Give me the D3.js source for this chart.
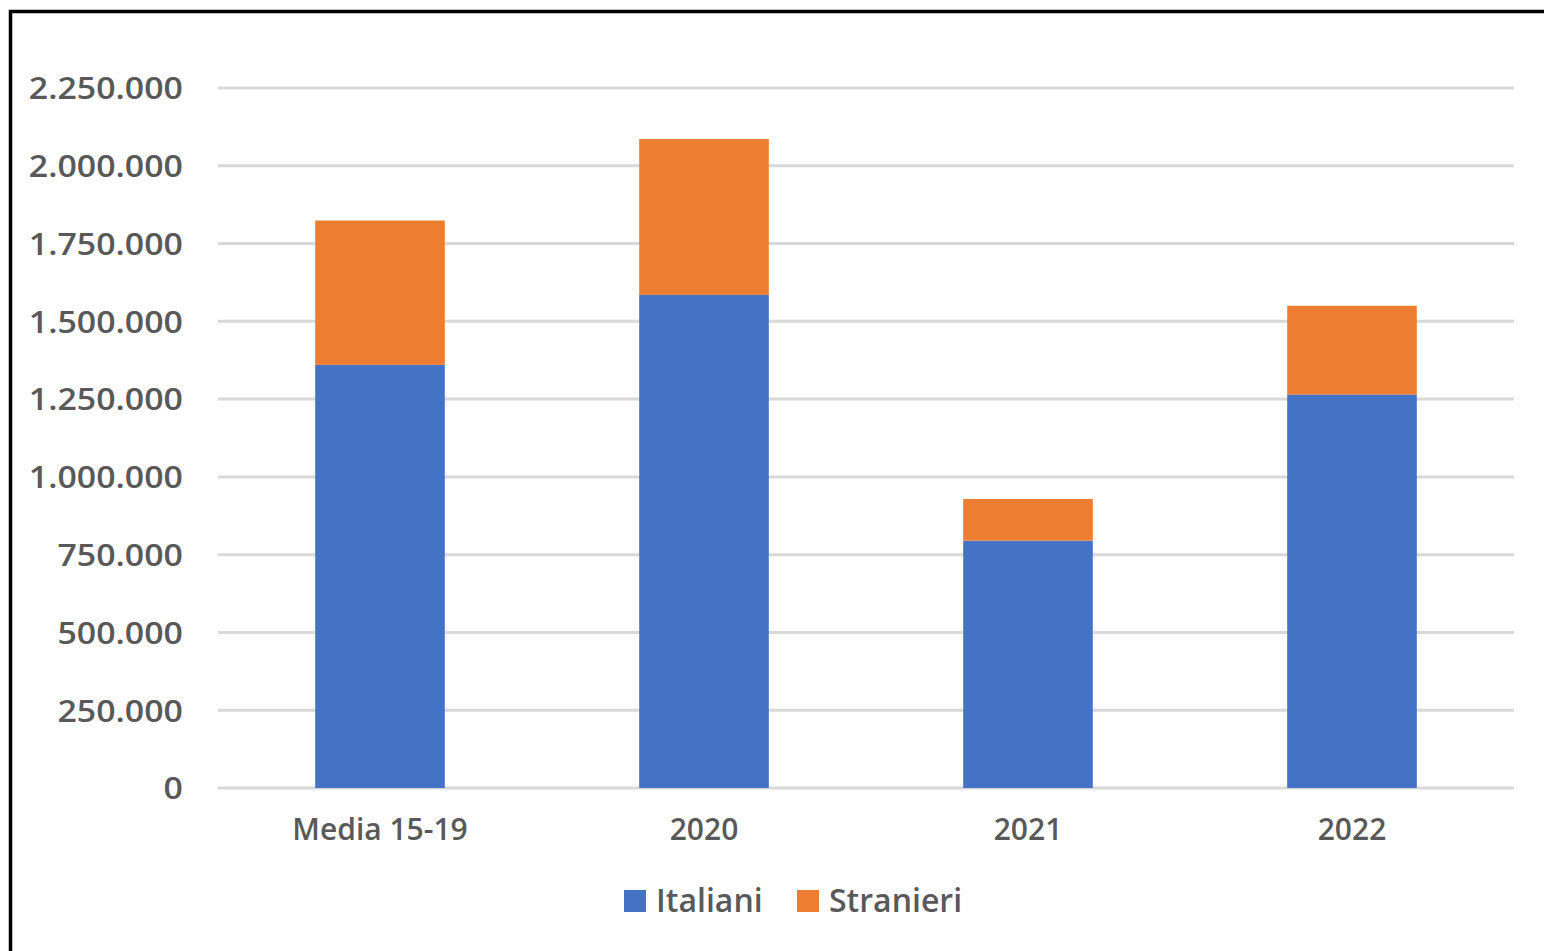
<!DOCTYPE html>
<html>
<head>
<meta charset="utf-8">
<script src="https://cdn.jsdelivr.net/npm/d3@7"></script>
<style>
  html, body { margin: 0; padding: 0; background: #fff; }
  #chart text { font-family: "Open Sans", "DejaVu Sans", sans-serif; font-weight: 600; fill: #595959; }
</style>
</head>
<body>
<div id="chart"></div>
<script>
var categories = ["Media 15-19", "2020", "2021", "2022"];
var italiani = [1360000, 1585000, 795000, 1265000];
var stranieri = [464000, 501000, 134000, 285000];
var seriesNames = ["Italiani", "Stranieri"];
var seriesColors = ["#4472C4", "#ED7D31"];
var yTicks = [0, 250000, 500000, 750000, 1000000, 1250000, 1500000, 1750000, 2000000, 2250000];

var W = 1544, H = 951,
    margin = {top: 88, right: 30, bottom: 163, left: 218},
    width = 1514 - margin.left,
    height = 788 - margin.top;

var rows = categories.map(function(c, i) {
  return {cat: c, Italiani: italiani[i], Stranieri: stranieri[i]};
});

var svg = d3.select("#chart").append("svg")
    .attr("width", W)
    .attr("height", H);

// outer frame (only left and top visible in the crop)
svg.append("path")
    .attr("d", "M10.5,951 V11.5 H1544")
    .attr("fill", "none")
    .attr("stroke", "#000")
    .attr("stroke-width", 3.5);

var g = svg.append("g")
    .attr("transform", "translate(" + margin.left + "," + margin.top + ")");

var xScale = d3.scaleBand().domain(categories).range([0, width])
    .paddingInner(0.6).paddingOuter(0.3);
var yScale = d3.scaleLinear().domain([0, 2250000]).range([height, 0]);

var fmt = function(v) {
  return d3.format(",")(v).replace(/,/g, ".");
};

// gridlines
g.selectAll(".grid")
  .data(yTicks)
  .enter().append("line")
    .attr("class", "grid")
    .attr("x1", 0).attr("x2", width)
    .attr("y1", function(d) { return yScale(d); })
    .attr("y2", function(d) { return yScale(d); })
    .attr("stroke", "#D9D9D9")
    .attr("stroke-width", 3);

// y axis labels (a bit wider than the font, like the original)
var yStretch = 1.13;
var yAxis = d3.axisLeft(yScale).tickValues(yTicks).tickFormat(fmt).tickSize(0);
var ya = g.append("g").attr("class", "axis axis--y").call(yAxis);
ya.select(".domain").remove();
ya.selectAll("text")
    .style("font-size", "30px")
    .attr("x", -35 / yStretch)
    .attr("dy", "0.36em")
    .attr("transform", "scale(" + yStretch + ",1)");

// stacked bars
var stack = d3.stack().keys(seriesNames);
var layers = stack(rows);

var layer = g.selectAll(".layer")
  .data(layers)
  .enter().append("g")
    .attr("class", "layer")
    .style("fill", function(d, i) { return seriesColors[i]; });

layer.selectAll("rect")
    .data(function(d) { return d; })
  .enter().append("rect")
    .attr("x", function(d) { return xScale(d.data.cat); })
    .attr("y", function(d) { return yScale(d[1]); })
    .attr("height", function(d) { return yScale(d[0]) - yScale(d[1]); })
    .attr("width", xScale.bandwidth());

// x axis labels
var xAxis = d3.axisBottom(xScale).tickSize(0).tickPadding(31);
var xa = g.append("g").attr("class", "axis axis--x")
    .attr("transform", "translate(0," + height + ")")
    .call(xAxis);
xa.select(".domain").remove();
xa.selectAll("text").style("font-size", "30px");

// legend
var legendItems = [
  {name: seriesNames[0], color: seriesColors[0], x: 624},
  {name: seriesNames[1], color: seriesColors[1], x: 797}
];
var leg = svg.selectAll(".legend")
  .data(legendItems)
  .enter().append("g")
    .attr("class", "legend")
    .attr("transform", function(d) { return "translate(" + d.x + ",890)"; });
leg.append("rect").attr("width", 22).attr("height", 22)
    .attr("fill", function(d) { return d.color; });
leg.append("text").attr("x", 32).attr("y", 22)
    .style("font-size", "32px")
    .text(function(d) { return d.name; });
</script>
</body>
</html>
